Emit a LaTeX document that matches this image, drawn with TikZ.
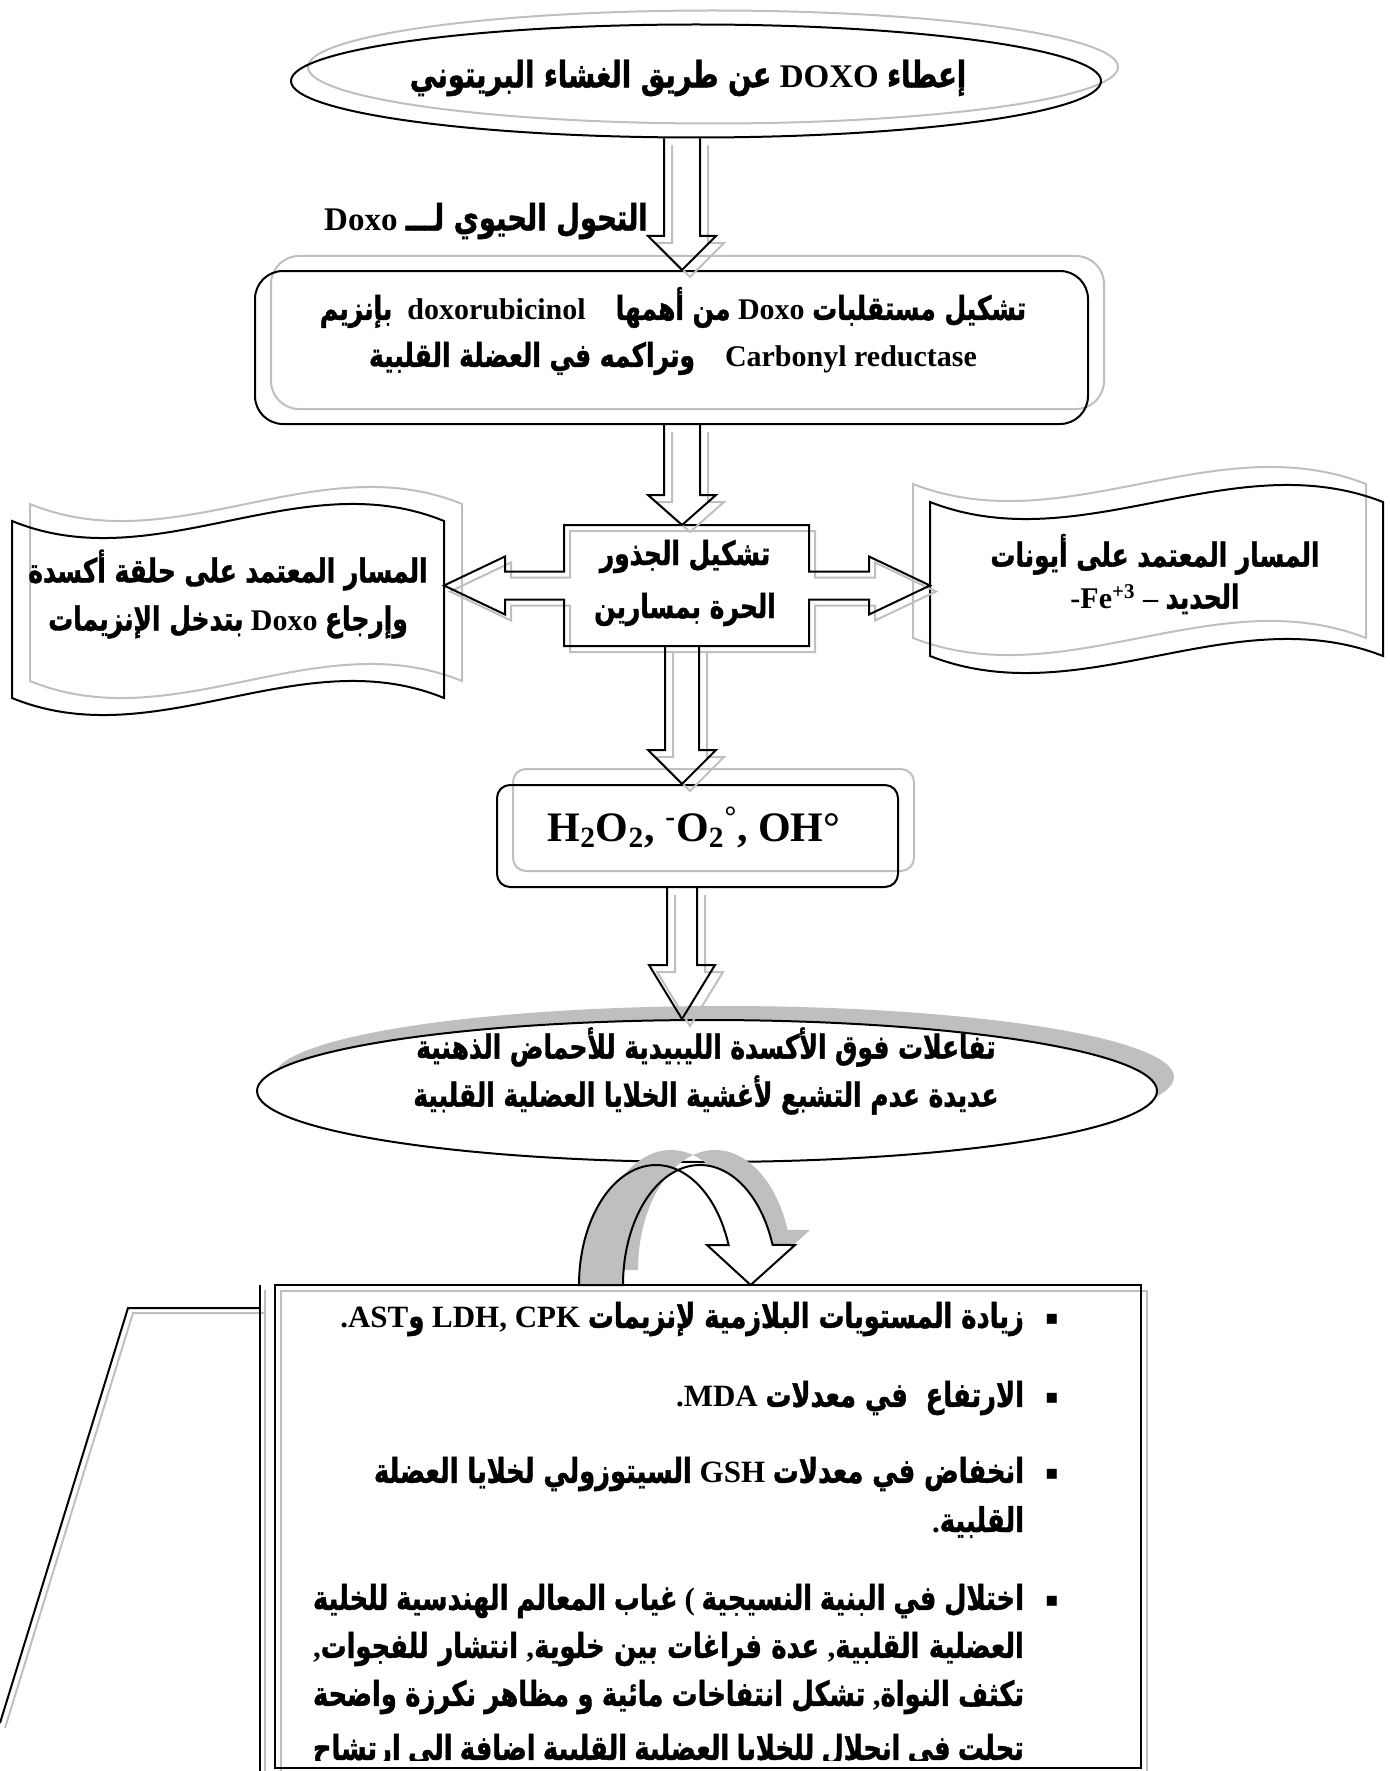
\documentclass[tikz,border=0pt]{standalone}
\usepackage{fontspec}
\setmainfont{Liberation Serif}
\newfontfamily\arabicfont[Script=Arabic, Scale=1.1, FakeStretch=0.755, FakeBold=1.2]{DejaVu Sans}
\newfontfamily\symbfont{DejaVu Sans}
\usetikzlibrary{calc,shapes.geometric}
\TeXXeTstate=1

\definecolor{shadowgray}{RGB}{191,191,191}

\newcommand\ar[1]{{\arabicfont #1}}
\newcommand\la[1]{\beginL#1\endL}
\newcommand\rtl[1]{\beginR#1\endR}

% block arrow pointing down along the axis: from, to, head length, shaft half, head half
\newcommand\blockdown[5]{%
  \draw[gshadow={4pt}{-3.5pt}] ($(axis |- #1)+(-#4,0)$) -- ($(axis |- #2)+(-#4,-#3)$) -- ($(axis |- #2)+(-#5,-#3)$) -- (axis |- #2) -- ($(axis |- #2)+(#5,-#3)$) -- ($(axis |- #2)+(#4,-#3)$) -- ($(axis |- #1)+(#4,0)$);}

% wavy scroll drawn round a holder node
\newcommand\wavebox[3]{%
  \draw[gshadow={#2}{#3}] (#1.north west) .. controls ($(#1.north west)!1/3!(#1.north east)+(0,59)$) and ($(#1.north west)!2/3!(#1.north east)+(0,-59)$) .. (#1.north east) -- (#1.south east) .. controls ($(#1.south west)!2/3!(#1.south east)+(0,-59)$) and ($(#1.south west)!1/3!(#1.south east)+(0,59)$) .. (#1.south west) -- cycle;}

% the two parts of the curved arrow
\newcommand\uback{(579,1285) arc[start angle=180, end angle=286.6, x radius=77, y radius=120] arc[start angle=253.4, end angle=180, x radius=77, y radius=120] -- cycle}
\newcommand\ufront{(678,1170) arc[start angle=253.4, end angle=340.5, x radius=77, y radius=120] -- (795,1245) -- (750.6,1285) -- (707,1245) -- (728.6,1245) arc[start angle=340.5, end angle=286.6, x radius=77, y radius=120] -- cycle}

\tikzset{every picture/.style={line width=1pt}}
\tikzset{
  gshadow/.style 2 args={preaction={draw=shadowgray, transform canvas={shift={(#1,#2)}}}},
  shape box/.style={draw, inner sep=0pt},
  holder/.style={inner sep=0pt},
  txt/.style={inner sep=0pt, align=center, font=\fontsize{15}{23.5}\selectfont\bfseries},
  bigtxt/.style={inner sep=0pt, font=\fontsize{16.5}{20}\selectfont\bfseries},
  chemtxt/.style={inner sep=0pt, font=\fontsize{21}{25}\selectfont\bfseries},
  linetxt/.style={inner sep=0pt, anchor=east, font=\fontsize{15.5}{20}\selectfont\bfseries},
  bulletmark/.style={inner sep=0pt, font=\symbfont\fontsize{10}{10}\selectfont},
}

\begin{document}
\begin{tikzpicture}[x=0.5pt,y=0.5pt,yscale=-1,xscale=1]
\useasboundingbox (0,0) rectangle (1389,1771);
\clip (0,0) rectangle (1389,1771);

%Shape: Ellipse
\node[shape box, ellipse, minimum width=405pt, minimum height=56.5pt, gshadow={8.5pt}{7pt}] (admin) at (696,81) {};
% Text Node
\node[bigtxt] (admintxt) at (688,78) {\rtl{\ar{إعطاء} \la{DOXO} \ar{عن طريق الغشاء البريتوني}}};

% Text Node
\node[bigtxt] (biotxt) at (486,221) {\rtl{\ar{التحول الحيوي لـــ} \la{Doxo}}};

%Shape: Rounded Rectangle
\node[shape box, rounded corners=14pt, minimum width=416.5pt, minimum height=76.5pt, gshadow={8pt}{7.5pt}] (metab) at (671.5,347.5) {};
% Text Node
\node[txt] (metabtxt) at (673,331) {\rtl{\ar{تشكيل مستقلبات} \la{Doxo} \ar{من أهمها}\quad\la{doxorubicinol}\enspace\ar{بإنزيم}}\\
  \rtl{\la{Carbonyl reductase}\quad\ar{وتراكمه في العضلة القلبية}}};

%Shape: Wave
\node[holder, minimum width=215pt, minimum height=87.5pt] (pathL) at (228,609.5) {};
\node[holder, minimum width=225.5pt, minimum height=76pt] (pathR) at (1156.5,579) {};
\wavebox{pathL}{9pt}{8.5pt}
\wavebox{pathR}{-8.5pt}{9pt}
% Text Node
\node[txt, font=\fontsize{15}{24}\selectfont\bfseries] (pathLtxt) at (228,594) {\rtl{\ar{المسار المعتمد على حلقة أكسدة}}\\
  \rtl{\ar{وإرجاع} \la{Doxo} \ar{بتدخل الإنزيمات}}};
% Text Node
\node[txt, font=\fontsize{15}{21}\selectfont\bfseries] (pathRtxt) at (1155,574) {\rtl{\ar{المسار المعتمد على أيونات}}\\
  \rtl{\ar{الحديد} – \la{-Fe\textsuperscript{+3}}}};

%Shape: Left Right Arrow Callout
\node[holder, minimum width=121.5pt, minimum height=59.5pt] (radic) at (686.5,585.5) {};
\coordinate (tipL) at (pathL.east |- radic.east);
\coordinate (tipR) at (pathR.west |- radic.east);
\draw[gshadow={3pt}{-3pt}] (radic.north west) -- (radic.north east) -- ($(radic.east)+(0,-14)$) -- ($(tipR)+(-61,-14)$) -- ($(tipR)+(-61,-29)$) -- (tipR) -- ($(tipR)+(-61,29)$) -- ($(tipR)+(-61,14)$) -- ($(radic.east)+(0,14)$) -- (radic.south east) -- (radic.south west) -- ($(radic.west)+(0,14)$) -- ($(tipL)+(61,14)$) -- ($(tipL)+(61,29)$) -- (tipL) -- ($(tipL)+(61,-29)$) -- ($(tipL)+(61,-14)$) -- ($(radic.west)+(0,-14)$) -- cycle;
% Text Node
\node[txt, font=\fontsize{15}{26.5}\selectfont\bfseries] (radictxt) at (685,583) {\rtl{\ar{تشكيل الجذور}}\\\rtl{\ar{الحرة بمسارين}}};

%Shape: Rounded Rectangle
\node[shape box, rounded corners=6.5pt, minimum width=200.5pt, minimum height=51pt, gshadow={8pt}{8pt}] (ros) at (697.5,836) {};
% Text Node
\node[chemtxt] (rostxt) at (694,827) {H\textsubscript{2}O\textsubscript{2}, \textsuperscript{-}O\textsubscript{2}\textsuperscript{°}, OH°};

%Shape: Ellipse
\node[shape box, ellipse, fill=white, minimum width=450pt, minimum height=71pt, preaction={fill=shadowgray, transform canvas={shift={(8.5pt,7pt)}}}] (lipid) at (707,1091) {};
% Text Node
\node[txt, font=\fontsize{15}{24}\selectfont\bfseries] (lipidtxt) at (706,1071) {\rtl{\ar{تفاعلات فوق الأكسدة الليبيدية للأحماض الذهنية}}\\
  \rtl{\ar{عديدة عدم التشبع لأغشية الخلايا العضلية القلبية}}};

%Shape: Curved Down Arrow
\begin{scope}[shift={(15,-15)}]
\fill[shadowgray] \uback;
\fill[shadowgray] \ufront;
\end{scope}
\draw[fill=shadowgray] \uback;
\draw[fill=white] \ufront;

%Shape: Rectangle
\node[shape box, minimum width=433pt, minimum height=241.5pt, gshadow={3pt}{-3pt}] (effects) at (708,1526.5) {};

%Straight Lines
\draw[gshadow={2.5pt}{-2.5pt}] (0,1723) -- (128,1308) -- (260,1308);
\draw[gshadow={2.5pt}{-2.5pt}] (260,1285) -- (260,1771);

% Text Node
\node[bulletmark] (b1) at (1052,1319) {▪};
\node[linetxt] (l1) at (1025,1319) {\rtl{\ar{زيادة المستويات البلازمية لإنزيمات} \la{LDH, CPK} \ar{و}\la{AST}.}};
\node[bulletmark] (b2) at (1052,1398) {▪};
\node[linetxt] (l2) at (1025,1398) {\rtl{\ar{الارتفاع\ \ في معدلات} \la{MDA}.}};
\node[bulletmark] (b3) at (1052,1474) {▪};
\node[linetxt] (l3) at (1025,1474) {\rtl{\ar{انخفاض في معدلات} \la{GSH} \ar{السيتوزولي لخلايا العضلة}}};
\node[linetxt] (l3b) at (1025,1522) {\rtl{\ar{القلبية}.}};
\node[bulletmark] (b4) at (1052,1601) {▪};
\node[linetxt] (l4) at (1025,1601) {\hbox to 355.5pt{\beginR\ar{اختلال في البنية النسيجية} ( \ar{غياب المعالم الهندسية للخلية}\endR}};
\node[linetxt] (l4b) at (1025,1649) {\hbox to 355.5pt{\beginR\ar{العضلية القلبية}, \ar{عدة فراغات بين خلوية}, \ar{انتشار للفجوات},\endR}};
\node[linetxt] (l4c) at (1025,1697) {\hbox to 355.5pt{\beginR\ar{تكثف النواة}, \ar{تشكل انتفاخات مائية و مظاهر نكرزة واضحة}\endR}};
\begin{scope}
\clip (effects.north west) rectangle (1141,1760);
\node[linetxt] (l4d) at (1025,1751) {\hbox to 355.5pt{\beginR\ar{تحلت في انحلال للخلايا العضلية القلبية اضافة الى ارتشاح}\endR}};
\end{scope}

%Block Arrows
\coordinate (axis) at (682,0);
\blockdown{admin.south}{metab.north}{34}{18}{34}
\blockdown{metab.south}{radic.north}{30}{18}{34}
\blockdown{radic.south}{ros.north}{34}{17}{34}
\blockdown{ros.south}{lipid.north}{54}{15}{33}

\end{tikzpicture}
\end{document}
